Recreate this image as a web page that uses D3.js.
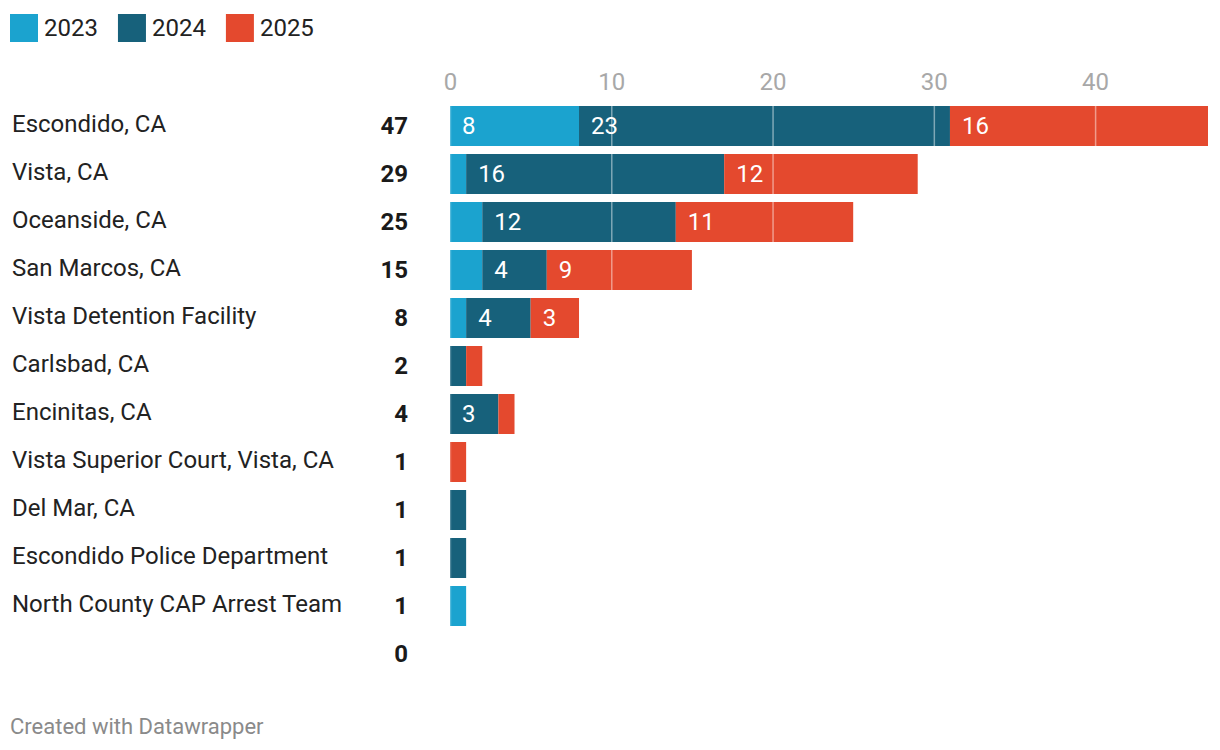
<!DOCTYPE html>
<html>
<head>
<meta charset="utf-8">
<script src="https://cdn.jsdelivr.net/npm/d3@7"></script>
<style>
	body { margin: 0; background: #fff; font-family: Roboto, "Noto Sans", sans-serif; }
</style>
</head>
<body>
<div id="chart"></div>
<script>
	// data
	var places = ["Escondido, CA", "Vista, CA", "Oceanside, CA", "San Marcos, CA",
		"Vista Detention Facility", "Carlsbad, CA", "Encinitas, CA",
		"Vista Superior Court, Vista, CA", "Del Mar, CA", "Escondido Police Department",
		"North County CAP Arrest Team", ""];
	var years = ["2023", "2024", "2025"];
	var v2023 = [8, 1, 2, 2, 1, 0, 0, 0, 0, 0, 1, 0];
	var v2024 = [23, 16, 12, 4, 4, 1, 3, 0, 1, 1, 0, 0];
	var v2025 = [16, 12, 11, 9, 3, 1, 1, 1, 0, 0, 0, 0];
	var xticks = [0, 10, 20, 30, 40];

	var colors = ["#1ba3cf", "#17617b", "#e4492e"];

	var width = 1220, height = 750;
	var margin = {left: 450, right: 12, top: 102};
	var rowstep = 48, barheight = 40;
	var fontsize = "24px";

	var svg = d3.select("#chart").append("svg")
		.attr("width", width)
		.attr("height", height);

	var rows = places.map(function(p, i){
		return {place: p, "2023": v2023[i], "2024": v2024[i], "2025": v2025[i],
			total: v2023[i] + v2024[i] + v2025[i]};
	});

	var x = d3.scaleLinear().domain([0, 47]).range([margin.left, width - margin.right]);
	var y = d3.scaleBand().domain(d3.range(rows.length))
		.range([margin.top, margin.top + rowstep * rows.length])
		.paddingInner((rowstep - barheight) / rowstep)
		.paddingOuter((rowstep - barheight) / rowstep / 2);

	// legend
	var legend = svg.append("g");
	var lx = 10;
	years.forEach(function(yr, i){
		legend.append("rect")
			.attr("x", lx).attr("y", 14)
			.attr("width", 28).attr("height", 28)
			.attr("fill", colors[i]);
		var t = legend.append("text")
			.attr("x", lx + 34).attr("y", 28)
			.attr("dominant-baseline", "central")
			.style("font-size", fontsize)
			.attr("fill", "#222")
			.text(yr);
		lx += 34 + t.node().getComputedTextLength() + 20;
	});

	// x axis (top)
	var xAxis = svg.append("g")
		.attr("transform", "translate(0, 82)")
		.call(d3.axisTop(x).tickValues(xticks).tickSize(0).tickPadding(0));
	xAxis.select(".domain").remove();
	xAxis.selectAll("text")
		.attr("dy", "0.35em")
		.style("font-family", "Roboto, sans-serif")
		.style("font-size", fontsize)
		.attr("fill", "#a8a8a8");

	// stacked bars
	var stack = d3.stack().keys(years)(rows);
	var bars = svg.append("g");
	stack.forEach(function(layer, k){
		var g = bars.append("g").attr("fill", colors[k]);
		g.selectAll("rect")
			.data(layer)
			.join("rect")
			.attr("x", d => x(d[0]))
			.attr("y", (d, i) => y(i))
			.attr("width", d => x(d[1]) - x(d[0]))
			.attr("height", y.bandwidth());

		g.selectAll("text")
			.data(layer.filter(d => d[1] - d[0] >= 3).map(d => ({d: d, i: layer.indexOf(d)})))
			.join("text")
			.attr("x", o => x(o.d[0]) + 12)
			.attr("y", o => y(o.i) + y.bandwidth() / 2)
			.attr("dominant-baseline", "central")
			.style("font-size", fontsize)
			.attr("fill", "#fff")
			.text(o => o.d[1] - o.d[0]);
	});

	// gridlines drawn over the bars
	svg.append("g").selectAll("line")
		.data(xticks)
		.join("line")
		.attr("x1", d => x(d) + 0.5).attr("x2", d => x(d) + 0.5)
		.attr("y1", y(0)).attr("y2", y(rows.length - 1) + y.bandwidth())
		.attr("stroke", "#fff")
		.attr("stroke-opacity", d => d === 0 ? 0.25 : 0.45)
		.attr("stroke-width", 1.5);

	// row labels + totals
	var labels = svg.append("g");
	labels.selectAll("text.place")
		.data(rows)
		.join("text")
		.attr("class", "place")
		.attr("x", 12)
		.attr("y", (d, i) => y(i) + y.bandwidth() / 2 - 2)
		.attr("dominant-baseline", "central")
		.style("font-size", fontsize)
		.attr("fill", "#222")
		.text(d => d.place);

	labels.selectAll("text.total")
		.data(rows)
		.join("text")
		.attr("class", "total")
		.attr("x", 408)
		.attr("y", (d, i) => y(i) + y.bandwidth() / 2)
		.attr("dominant-baseline", "central")
		.attr("text-anchor", "end")
		.style("font-size", fontsize)
		.style("font-weight", "bold")
		.attr("fill", "#1a1a1a")
		.text(d => d.total);

	svg.append("text")
		.attr("x", 10).attr("y", 726)
		.attr("dominant-baseline", "central")
		.style("font-size", "22px")
		.attr("fill", "#8a8a8a")
		.text("Created with Datawrapper");
</script>
</body>
</html>
